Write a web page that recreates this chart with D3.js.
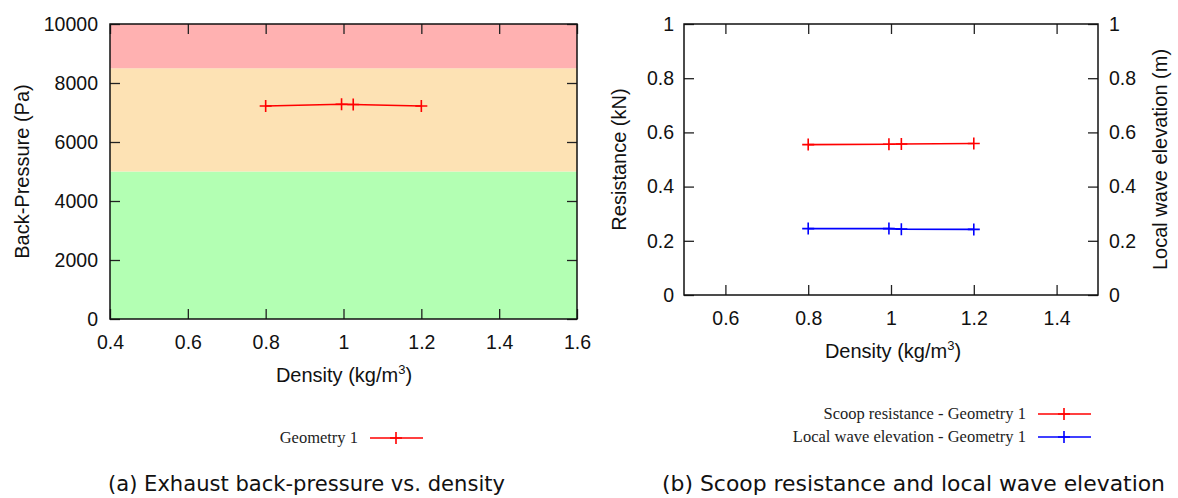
<!DOCTYPE html>
<html>
<head>
<meta charset="utf-8">
<script src="https://cdn.jsdelivr.net/npm/d3@7"></script>
<style>
  html, body { margin: 0; padding: 0; background: #fff; }
  svg { display: block; }
  .tick text { font-family: "Liberation Sans", Arial, sans-serif; font-size: 19.5px; fill: #111; }
  .tick line { stroke: #222; stroke-width: 1.3; }
  .title { font-family: "Liberation Sans", Arial, sans-serif; font-size: 20px; fill: #111; }
  .legend { font-family: "Liberation Serif", "Times New Roman", serif; font-size: 16.5px; fill: #222; }
  .caption { font-family: "DejaVu Sans", Tahoma, sans-serif; font-size: 22px; fill: #111; }
</style>
</head>
<body>
<svg id="chart" width="1178" height="498"></svg>
<script>
// ---- data ----
const density = [0.8, 0.995, 1.025, 1.2];
const backPressure = [7220, 7280, 7270, 7220];           // Pa, Geometry 1
const scoopResistance = [0.555, 0.556, 0.557, 0.559];    // kN, Geometry 1
const waveElevation = [0.245, 0.245, 0.243, 0.242];      // m, Geometry 1

// back-pressure zones (Pa)
const zoneNames = ["acceptable", "marginal", "excessive"];
const zoneLow = [0, 5000, 8500];
const zoneHigh = [5000, 8500, 10000];
const zoneColors = ["#b3ffb3", "#fde2b4", "#ffb1b1"];

const xTicksA = [0.4, 0.6, 0.8, 1.0, 1.2, 1.4, 1.6];
const yTicksA = [0, 2000, 4000, 6000, 8000, 10000];
const xTicksB = [0.6, 0.8, 1.0, 1.2, 1.4];
const yTicksB = [0, 0.2, 0.4, 0.6, 0.8, 1.0];

const svg = d3.select("#chart");
const fmt = d => String(+d.toFixed(3));

function plusMarks(g, pts, color) {
  g.selectAll(null).data(pts).enter().append("path")
    .attr("d", d => `M${d[0] - 6},${d[1]}H${d[0] + 6}M${d[0]},${d[1] - 6}V${d[1] + 6}`)
    .attr("stroke", color).attr("stroke-width", 1.6).attr("fill", "none");
}

function styleAxis(g) {
  g.select(".domain").remove();
}

function densityLabel(g, x, y) {
  const t = g.append("text").attr("class", "title").attr("x", x).attr("y", y).attr("text-anchor", "middle");
  t.append("tspan").text("Density (kg/m");
  t.append("tspan").attr("dy", -8).attr("font-size", 13).text("3");
  t.append("tspan").attr("dy", 8).text(")");
}

// ---- panel (a): exhaust back-pressure ----
{
  const L = 110, R = 577, T = 24, B = 319;
  const x = d3.scaleLinear().domain([0.4, 1.6]).range([L, R]);
  const y = d3.scaleLinear().domain([0, 10000]).range([B, T]);
  const g = svg.append("g");

  g.selectAll("rect.zone").data(zoneNames).enter().append("rect")
    .attr("class", "zone")
    .attr("x", L).attr("width", R - L)
    .attr("y", (d, i) => y(zoneHigh[i]))
    .attr("height", (d, i) => y(zoneLow[i]) - y(zoneHigh[i]))
    .attr("fill", (d, i) => zoneColors[i]);

  g.append("g").attr("transform", `translate(0,${B})`)
    .call(d3.axisBottom(x).tickValues(xTicksA).tickFormat(fmt).tickSizeInner(-10).tickSizeOuter(0).tickPadding(16))
    .call(styleAxis);
  g.append("g").attr("transform", `translate(0,${T})`)
    .call(d3.axisTop(x).tickValues(xTicksA).tickFormat("").tickSizeInner(-10).tickSizeOuter(0))
    .call(styleAxis);
  g.append("g").attr("transform", `translate(${L},0)`)
    .call(d3.axisLeft(y).tickValues(yTicksA).tickFormat(d3.format("d")).tickSizeInner(-10).tickSizeOuter(0).tickPadding(12))
    .call(styleAxis);
  g.append("g").attr("transform", `translate(${R},0)`)
    .call(d3.axisRight(y).tickValues(yTicksA).tickFormat("").tickSizeInner(-10).tickSizeOuter(0))
    .call(styleAxis);

  g.append("rect").attr("x", L).attr("y", T).attr("width", R - L).attr("height", B - T)
    .attr("fill", "none").attr("stroke", "#111").attr("stroke-width", 1.5);

  const pts = density.map((d, i) => [x(d), y(backPressure[i])]);
  g.append("path").attr("d", d3.line()(pts)).attr("fill", "none").attr("stroke", "#ff0000").attr("stroke-width", 1.6);
  plusMarks(g, pts, "#ff0000");

  densityLabel(g, 344, 382);
  g.append("text").attr("class", "title").attr("text-anchor", "middle")
    .attr("transform", `translate(29,${(T + B) / 2}) rotate(-90)`).text("Back-Pressure (Pa)");

  // legend
  g.append("text").attr("class", "legend").attr("x", 358).attr("y", 443).attr("text-anchor", "end").text("Geometry 1");
  g.append("line").attr("x1", 370).attr("x2", 423).attr("y1", 438).attr("y2", 438).attr("stroke", "#ff0000").attr("stroke-width", 1.6);
  plusMarks(g, [[396, 438]], "#ff0000");

  g.append("text").attr("class", "caption").attr("x", 108).attr("y", 491)
    .attr("textLength", 397).attr("lengthAdjust", "spacingAndGlyphs")
    .text("(a) Exhaust back-pressure vs. density");
}

// ---- panel (b): scoop resistance and wave elevation ----
{
  const L = 684, R = 1098, T = 24, B = 295;
  const x = d3.scaleLinear().domain([0.5, 1.5]).range([L, R]);
  const y = d3.scaleLinear().domain([0, 1]).range([B, T]);
  const y2 = d3.scaleLinear().domain([0, 1]).range([B, T]);
  const g = svg.append("g");

  g.append("g").attr("transform", `translate(0,${B})`)
    .call(d3.axisBottom(x).tickValues(xTicksB).tickFormat(fmt).tickSizeInner(-10).tickSizeOuter(0).tickPadding(16))
    .call(styleAxis);
  g.append("g").attr("transform", `translate(0,${T})`)
    .call(d3.axisTop(x).tickValues(xTicksB).tickFormat("").tickSizeInner(-10).tickSizeOuter(0))
    .call(styleAxis);
  g.append("g").attr("transform", `translate(${L},0)`)
    .call(d3.axisLeft(y).tickValues(yTicksB).tickFormat(fmt).tickSizeInner(-10).tickSizeOuter(0).tickPadding(10))
    .call(styleAxis);
  g.append("g").attr("transform", `translate(${R},0)`)
    .call(d3.axisRight(y2).tickValues(yTicksB).tickFormat(fmt).tickSizeInner(-10).tickSizeOuter(0).tickPadding(11))
    .call(styleAxis);

  g.append("rect").attr("x", L).attr("y", T).attr("width", R - L).attr("height", B - T)
    .attr("fill", "none").attr("stroke", "#111").attr("stroke-width", 1.5);

  const red = density.map((d, i) => [x(d), y(scoopResistance[i])]);
  const blue = density.map((d, i) => [x(d), y2(waveElevation[i])]);
  g.append("path").attr("d", d3.line()(red)).attr("fill", "none").attr("stroke", "#ff0000").attr("stroke-width", 1.6);
  plusMarks(g, red, "#ff0000");
  g.append("path").attr("d", d3.line()(blue)).attr("fill", "none").attr("stroke", "#0000ff").attr("stroke-width", 1.6);
  plusMarks(g, blue, "#0000ff");

  densityLabel(g, 893, 358);
  g.append("text").attr("class", "title").attr("text-anchor", "middle")
    .attr("transform", `translate(626,${(T + B) / 2}) rotate(-90)`).text("Resistance (kN)");
  g.append("text").attr("class", "title").attr("text-anchor", "middle")
    .attr("transform", `translate(1167,${(T + B) / 2}) rotate(-90)`).text("Local wave elevation (m)");

  // legend
  const legendNames = ["Scoop resistance - Geometry 1", "Local wave elevation - Geometry 1"];
  const legendColors = ["#ff0000", "#0000ff"];
  const rows = [414, 437];
  legendNames.forEach((name, i) => {
    g.append("text").attr("class", "legend").attr("x", 1026).attr("y", rows[i] + 5).attr("text-anchor", "end").text(name);
    g.append("line").attr("x1", 1038).attr("x2", 1091).attr("y1", rows[i]).attr("y2", rows[i])
      .attr("stroke", legendColors[i]).attr("stroke-width", 1.6);
    plusMarks(g, [[1064, rows[i]]], legendColors[i]);
  });

  g.append("text").attr("class", "caption").attr("x", 662).attr("y", 491)
    .attr("textLength", 503).attr("lengthAdjust", "spacingAndGlyphs")
    .text("(b) Scoop resistance and local wave elevation");
}
</script>
</body>
</html>
